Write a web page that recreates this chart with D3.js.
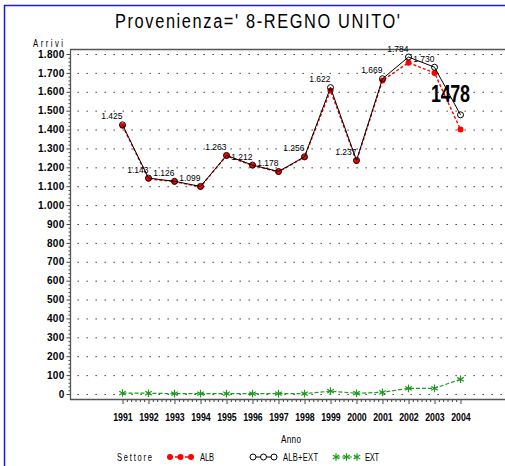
<!DOCTYPE html>
<html>
<head>
<meta charset="utf-8">
<script src="https://cdn.jsdelivr.net/npm/d3@7"></script>
<style>
  html, body { margin: 0; padding: 0; background: #fff; }
  svg { display: block; }
</style>
</head>
<body>
<svg id="chart" width="505" height="466"></svg>
<script>
// --------------------------------
// data
// --------------------------------
var aYears   = [1991,1992,1993,1994,1995,1996,1997,1998,1999,2000,2001,2002,2003,2004];
var aAlb     = [1420,1139,1124,1097,1261,1210,1176,1254,1607,1233,1660,1754,1700,1400];
var aAlbExt  = [1425,1143,1126,1099,1263,1212,1178,1256,1622,1237,1669,1784,1730,1478];
var aExt     = [5,4,2,2,2,2,2,2,15,4,9,30,30,78];
var aYTicks  = d3.range(0, 1801, 100);
var szTitle  = "Provenienza=' 8-REGNO UNITO'";
var szLast   = "1478";

var szFont   = "'Liberation Sans',Arial,sans-serif";

// --------------------------------
// scales
// --------------------------------
var x = d3.scaleLinear().domain([1989, 2006]).range([70.5, 512.5]);
var y = d3.scaleLinear().domain([0, 1800]).range([394, 54]);

var it = d3.formatLocale({decimal: ",", thousands: ".", grouping: [3], currency: ["", ""]});
var fmt = it.format(",d");

var svg = d3.select("#chart");

// --------------------------------------------------
// narrow, spaced text (the original uses a thin
// condensed plotter font), squeezed horizontally
// --------------------------------------------------
function addText(nX, nY, szText, nSize, nWidth, szAnchor, szWeight, nScale){
  nScale = nScale || 0.78;
  return svg.append("text")
    .attr("transform", "translate(" + nX + "," + nY + ") scale(" + nScale + ",1)")
    .attr("text-anchor", szAnchor || "start")
    .attr("textLength", nWidth / nScale)
    .attr("lengthAdjust", "spacing")
    .attr("style", "font-family:" + szFont + ";font-size:" + nSize + "px;font-weight:" + (szWeight || "normal") + ";fill:#000")
    .text(szText);
}

// blue page frame
svg.append("path")
  .attr("d", "M4.5,466 L4.5,5.5 L505,5.5")
  .attr("style", "fill:none;stroke:#1a1ae6;stroke-width:1.5");

// title
addText(115, 28, szTitle, 21, 285);

// --------------------------------
// grid
// --------------------------------
svg.append("g").selectAll("line")
  .data(aYTicks)
  .join("line")
  .attr("x1", 77.5).attr("x2", 512)
  .attr("y1", function(d){ return y(d) + 0.5; })
  .attr("y2", function(d){ return y(d) + 0.5; })
  .attr("style", "stroke:#222;stroke-width:1;stroke-dasharray:1.3,7.7");

// --------------------------------
// axes
// --------------------------------
var gY = svg.append("g").attr("transform", "translate(70.5,0)")
  .call(d3.axisLeft(y).tickValues(aYTicks).tickFormat(fmt).tickSize(4).tickSizeOuter(0).tickPadding(2));
var gYm = svg.append("g").attr("transform", "translate(70.5,0)")
  .call(d3.axisLeft(y).tickValues(d3.range(20, 1800, 20).filter(function(d){ return d % 100; }))
        .tickFormat("").tickSize(2).tickSizeOuter(0));
gY.selectAll("text").attr("style", "font-family:" + szFont + ";font-size:10px;font-weight:bold;letter-spacing:0.3px;fill:#000");

var gX = svg.append("g").attr("transform", "translate(0,399)")
  .call(d3.axisBottom(x).tickValues(aYears).tickFormat(d3.format("d")).tickSize(5).tickSizeOuter(0).tickPadding(10));
var aMinor = [];
aYears.slice(0, -1).forEach(function(yr){ for (var k = 1; k < 6; k++) aMinor.push(yr + k/6); });
var gXm = svg.append("g").attr("transform", "translate(0,399)")
  .call(d3.axisBottom(x).tickValues(aMinor).tickFormat("").tickSize(3).tickSizeOuter(0));
gX.selectAll("text")
  .attr("textLength", 19.5).attr("lengthAdjust", "spacingAndGlyphs")
  .attr("style", "font-family:" + szFont + ";font-size:10.5px;font-weight:bold;fill:#000");

[gY, gYm, gX, gXm].forEach(function(g){
  g.select(".domain").remove();
  g.selectAll(".tick line").attr("stroke", "#444");
});

// plot frame (top, left, bottom)
svg.append("path")
  .attr("d", "M512,49.5 L70.5,49.5 L70.5,399.5 L512,399.5")
  .attr("style", "fill:none;stroke:#555;stroke-width:1.3");

// axis titles
addText(33, 46.5, "Arrivi", 10, 30);
addText(291, 443, "Anno", 10.5, 20, "middle");

// --------------------------------
// series
// --------------------------------
function pts(aVals){ return aYears.map(function(yr, i){ return [x(yr), y(aVals[i])]; }); }
var line = d3.line();

// ALB (red, dashed, filled dots)
svg.append("path").attr("d", line(pts(aAlb)))
  .attr("style", "fill:none;stroke:#ff0000;stroke-width:1.4;stroke-dasharray:3,2");
svg.append("g").selectAll("circle").data(pts(aAlb)).join("circle")
  .attr("cx", function(d){ return d[0]; }).attr("cy", function(d){ return d[1]; })
  .attr("r", 3).attr("fill", "#ff0000");

// ALB+EXT (black, solid, open circles)
svg.append("path").attr("d", line(pts(aAlbExt)))
  .attr("style", "fill:none;stroke:#000;stroke-width:1");
svg.append("g").selectAll("circle").data(pts(aAlbExt)).join("circle")
  .attr("cx", function(d){ return d[0]; }).attr("cy", function(d){ return d[1]; })
  .attr("r", 3).attr("style", "fill:none;stroke:#000;stroke-width:1");

// EXT (green, dashed, stars)
var star = d3.symbol().type(d3.symbolAsterisk || d3.symbolCross).size(40);
svg.append("path").attr("d", line(pts(aExt)))
  .attr("style", "fill:none;stroke:#1f9a1f;stroke-width:1.2;stroke-dasharray:4,2");
svg.append("g").selectAll("path").data(pts(aExt)).join("path")
  .attr("transform", function(d){ return "translate(" + d[0] + "," + d[1] + ")"; })
  .attr("d", star)
  .attr("style", "fill:none;stroke:#1f9a1f;stroke-width:1.2");

// value labels for ALB+EXT
svg.append("g").selectAll("text").data(aAlbExt.slice(0, -1)).join("text")
  .attr("x", function(d, i){ return x(aYears[i]); })
  .attr("y", function(d){ return y(d) - 5.5; })
  .attr("text-anchor", "end")
  .attr("style", "font-family:" + szFont + ";font-size:8.5px;fill:#000")
  .text(fmt);

// big label for the last year
addText(x(aYears[aYears.length - 1]) - 10, y(aAlbExt[aAlbExt.length - 1]) - 13, szLast, 23, 39, "middle", "bold");

// --------------------------------
// legend
// --------------------------------
var nLegY = 457;
addText(117, nLegY + 4, "Settore", 10.5, 35, "start", "normal", 0.72);

var aLegend = [
  {name: "ALB",     x0: 170, tx: 200, w: 14, line: "stroke:#ff0000;stroke-width:1.4;stroke-dasharray:3,2", mark: "dot"},
  {name: "ALB+EXT", x0: 253, tx: 283, w: 35, line: "stroke:#000;stroke-width:1", mark: "circle"},
  {name: "EXT",     x0: 336, tx: 365, w: 14, line: "stroke:#1f9a1f;stroke-width:1.2;stroke-dasharray:4,2", mark: "star"}
];
aLegend.forEach(function(o){
  var g = svg.append("g");
  g.append("line").attr("x1", o.x0).attr("x2", o.x0 + 21).attr("y1", nLegY).attr("y2", nLegY)
    .attr("style", "fill:none;" + o.line);
  [0, 10.5, 21].forEach(function(dx){
    var cx = o.x0 + dx;
    if (o.mark == "dot") {
      g.append("circle").attr("cx", cx).attr("cy", nLegY).attr("r", 3).attr("fill", "#ff0000");
    } else if (o.mark == "circle") {
      g.append("circle").attr("cx", cx).attr("cy", nLegY).attr("r", 3)
        .attr("style", "fill:#fff;stroke:#000;stroke-width:1");
    } else {
      g.append("path").attr("transform", "translate(" + cx + "," + nLegY + ")").attr("d", star)
        .attr("style", "fill:none;stroke:#1f9a1f;stroke-width:1.2");
    }
  });
  addText(o.tx, nLegY + 4, o.name, 10.5, o.w, "start", "normal", 0.72);
});
</script>
</body>
</html>
